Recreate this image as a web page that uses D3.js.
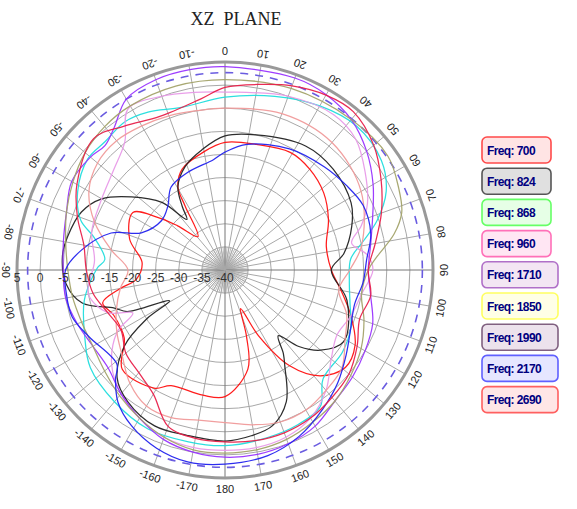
<!DOCTYPE html>
<html><head><meta charset="utf-8">
<script src="https://cdn.jsdelivr.net/npm/d3@7/dist/d3.min.js"></script>
<style>body{margin:0;background:#fff}</style>
</head><body>
<svg id="chart" width="577" height="509"></svg>
<script>
const chartTitle = "XZ  PLANE";
const freqs = ["700","824","868","960","1710","1850","1990","2170","2690"];
const radialTicks = [5,0,-5,-10,-15,-20,-25,-30,-35,-40];
const angleTicks = d3.range(-170, 181, 10);
const refLevel = 2.7;

// [angle (deg, clockwise from top), gain (dB)]
const f700 = [[0,-12.4],[14,-12],[29,-10.9],[40,-11.5],[52,-12.9],[64,-15.1],[77,-17.5],[90,-17],[100,-14.5],[110,-11],[120,-7.5],[129,-6.5],[138,-9.2],[146,-15],[153,-24],[158,-31],[162,-25],[167,-18],[180,-12.6],[-170,-12.5],[-155,-12.4],[-149,-10.2],[-134,-9.1],[-124,-13.7],[-112,-14],[-105,-12.6],[-100,-17],[-96,-20.7],[-85,-22],[-72,-18.3],[-58,-16.5],[-52,-21.5],[-47,-26],[-39,-30.7],[-32,-23.8],[-29.5,-19.3],[-23,-16.3],[-10,-14]];
const f824 = [[0,-11],[13,-10],[33,-8],[47,-8],[62,-9.1],[71,-11],[82,-14],[90,-17],[104,-12.8],[121,-10],[130,-13],[136,-17],[141,-21.7],[145,-18],[148,-15.6],[155,-8.6],[163,-4.8],[171,-3.7],[180,-3],[-167,-3.3],[-155.7,-3],[-143.5,-4.6],[-135,-7],[-127,-12.8],[-122,-20],[-119,-26.3],[-113,-17],[-109,-14.7],[-103,-8.3],[-95,-5.5],[-85,-4.7],[-78,-5.2],[-68,-6.5],[-60,-9.2],[-52,-14.3],[-43,-20],[-37,-26.3],[-34,-23.5],[-29.5,-19.3],[-21,-16],[-10.8,-13.5]];
const f868 = [[0,-2.6],[16,-0.9],[30,1],[42.5,2.2],[55,1.3],[64,-1.2],[72,-5.4],[78,-9.3],[85,-12.7],[95,-13],[105,-12],[115,-10],[125,-9],[138,-8.3],[145,-4],[155,-3],[166,-2.6],[180,-2],[-168,-2],[-154,-1.8],[-140,-2.8],[-126,-4],[-115,-6.5],[-102,-8.9],[-89,-12.4],[-85,-13.9],[-76,-10.8],[-71,-7],[-62,-3.9],[-51,-1.8],[-43,-2],[-34,-1.3],[-26,-2],[-15,-3.6]];
const f960 = [[0,-1.5],[20,0],[35,1],[45,0],[55,-3],[65,-6],[72,-9],[78,-12],[84,-9],[90,-8],[100,-10],[110,-11],[120,-12],[130,-10],[140,-6],[150,-3],[160,-1.5],[170,-1],[180,-1],[-170,-1],[-160,-1.5],[-150,-3],[-140,-5],[-130,-8],[-120,-13],[-115,-18],[-110,-13],[-100,-10],[-86,-11.7],[-74,-10],[-60,-9.2],[-48,-7.6],[-38,-4.8],[-31,0.7],[-20,0],[-10,-1]];
const f1710 = [[0,4],[20,4.2],[30,3.8],[40,2.5],[50,0],[60,-3],[70,-6],[80,-8],[90,-9],[100,-8],[110,-6],[120,-5],[130,-4],[140,-3],[150,-1],[160,0],[170,0.5],[180,0.5],[-170,0],[-160,-1],[-150,-3],[-140,-5],[-130,-7],[-120,-7],[-110,-6],[-100,-5],[-90,-5],[-80,-4.5],[-70,-3.5],[-60,-1.7],[-50,-2],[-44,-2.6],[-38,-1],[-30,2.7],[-20,3.8],[-10,4]];
const f1850 = [[0,1.2],[20,1.8],[40,2.5],[55,3],[65,1.5],[72,0.2],[78,-2.6],[85,-7],[90,-9],[100,-10],[110,-8],[120,-6],[130,-4.5],[140,-3],[150,-2],[160,-1],[170,-0.5],[180,-0.4],[-170,-0.5],[-160,-1.5],[-150,-3],[-140,-4.5],[-130,-6],[-120,-7],[-110,-7],[-100,-6.5],[-90,-6],[-80,-5],[-70,-3.5],[-60,-2],[-50,-0.5],[-40,0.5],[-30,1],[-15,1.2]];
const f1990 = [[0,-5],[20,-4],[40,-4],[60,-6],[80,-10],[90,-13],[100,-15],[110,-12],[120,-10],[130,-7],[140,-6],[150,-5],[160,-5],[170,-6],[180,-7],[-170,-7],[-160,-6],[-150,-6],[-140,-8],[-130,-11],[-120,-13],[-110,-15],[-100,-17],[-90,-19],[-80,-15],[-70,-10],[-60,-6],[-50,-4],[-40,-3.5],[-30,-4],[-20,-4.5],[-10,-5]];
const f2170 = [[0,-14.5],[10,-12.4],[28,-10.3],[44,-9],[55,-8],[65,-7],[76,-7.5],[86,-9.3],[95,-10],[105,-11],[115,-10],[125,-8],[135,-5.5],[145,-3.2],[156,-0.6],[167,1.2],[180,2],[-169,2.3],[-159,1.3],[-149,-0.7],[-141,-3.2],[-135,-6.5],[-131,-9],[-116,-7.2],[-107,-5.4],[-98,-5.3],[-90,-5.5],[-82,-8.7],[-72,-14.1],[-66,-20.2],[-52,-22.6],[-42,-21.5],[-33,-18.6],[-21,-17.4],[-6,-16]];
const f2690 = [[0,-0.5],[11,0.9],[20,2.4],[30,3.7],[39,4.1],[50,2],[60,-1],[70,-4],[80,-7],[90,-9],[100,-8],[110,-9],[120,-7],[130,-5],[140,-4],[150,-3],[160,-2.5],[170,-2.5],[180,-2.8],[-170,-3],[-160,-4],[-150,-9],[-140,-11],[-130,-12],[-120,-14],[-110,-13],[-100,-11],[-90,-10],[-80,-9],[-70,-6],[-60,-3],[-45,0.2],[-35,-2],[-23,-3.9],[-8,-2.6]];

const seriesData = [f700,f824,f868,f960,f1710,f1850,f1990,f2170,f2690];
const lineColors = ["#ff1010","#222222","#22dddd","#e89ae8","#9933ff","#a3a36a","#f09a9a","#2222ee","#e8204a"];
const boxStroke = ["#ff4a4a","#555555","#66ff66","#ff70b8","#b070c8","#ffff60","#806080","#6060ff","#ff6060"];
const boxFill = ["#ffe4e4","#e0e0e0","#e6ffe6","#ffe6f3","#f3e6f3","#ffffe6","#ece2ec","#e6e6ff","#ffe6e6"];

const svg = d3.select("#chart");
const cx = 225, cy = 270;
const r = d3.scaleLinear().domain([-40, 5]).range([0, 208]);
const g = svg.append("g").attr("transform", `translate(${cx},${cy})`);
const rad = a => a * Math.PI / 180;

svg.append("text").attr("x", 236).attr("y", 25).attr("text-anchor", "middle")
  .attr("font-family", "Liberation Serif, Times New Roman, serif").attr("font-size", 18)
  .attr("fill", "#222").style("white-space", "pre").text(chartTitle);

g.selectAll("circle.grid").data(radialTicks.filter(v => v > -40 && v < 5)).join("circle")
  .attr("r", d => r(d)).attr("fill", "none").attr("stroke", "#a8a8a8").attr("stroke-width", 1);

g.selectAll("line.inner").data(d3.range(0, 360, 5)).join("line")
  .attr("x1", 0).attr("y1", 0)
  .attr("x2", d => Math.sin(rad(d)) * r(-35)).attr("y2", d => -Math.cos(rad(d)) * r(-35))
  .attr("stroke", "#aaa").attr("stroke-width", 0.8);
g.selectAll("line.spoke").data(d3.range(0, 360, 10)).join("line")
  .attr("x1", 0).attr("y1", 0)
  .attr("x2", d => Math.sin(rad(d)) * r(5)).attr("y2", d => -Math.cos(rad(d)) * r(5))
  .attr("stroke", d => d % 90 === 0 ? "#777" : "#a8a8a8").attr("stroke-width", 1);

g.append("circle").attr("r", r(5)).attr("fill", "none").attr("stroke", "#999").attr("stroke-width", 3);

g.append("circle").attr("r", r(refLevel)).attr("fill", "none").attr("stroke", "#6a5ce0")
  .attr("stroke-width", 1.6).attr("stroke-dasharray", "8,7");

const line = d3.lineRadial()
  .angle(d => rad(d[0]))
  .radius(d => r(d[1]))
  .curve(d3.curveCatmullRomClosed.alpha(0.5));
seriesData.forEach((s, i) => {
  const pts = s.map(d => [((d[0] % 360) + 360) % 360, d[1]]).sort((a, b) => a[0] - b[0]);
  g.append("path").attr("d", line(pts)).attr("fill", "none")
    .attr("stroke", lineColors[i]).attr("stroke-width", 1.25).attr("opacity", 0.95);
});

g.selectAll("text.rl").data(radialTicks).join("text")
  .attr("x", d => -r(d)).attr("y", 12).attr("text-anchor", "middle")
  .attr("font-family", "Liberation Sans, Arial, sans-serif").attr("font-size", 12)
  .attr("fill", "#333").text(d => d);

const labR = 219;
g.selectAll("text.al").data(angleTicks).join("text")
  .attr("transform", d => {
    const x = Math.sin(rad(d)) * labR, y = -Math.cos(rad(d)) * labR;
    return `translate(${x},${y}) rotate(${d + 180})`;
  })
  .attr("text-anchor", "middle").attr("dominant-baseline", "central")
  .attr("font-family", "Liberation Sans, Arial, sans-serif").attr("font-size", 11)
  .attr("fill", "#222").text(d => d);

const leg = svg.append("g");
freqs.forEach((f, i) => {
  const y = 137 + i * 31.2;
  const w = f.length > 3 ? 76 : 69;
  leg.append("rect").attr("x", 482).attr("y", y).attr("width", w).attr("height", 26)
    .attr("rx", 5).attr("fill", boxFill[i]).attr("stroke", boxStroke[i]).attr("stroke-width", 1.6);
  leg.append("text").attr("x", 487).attr("y", y + 17.5)
    .attr("font-family", "Liberation Sans, Arial, sans-serif").attr("font-size", 12)
    .attr("font-weight", "bold").attr("fill", "#000080").attr("letter-spacing", -0.6)
    .text("Freq: " + f);
});
</script>
</body></html>
